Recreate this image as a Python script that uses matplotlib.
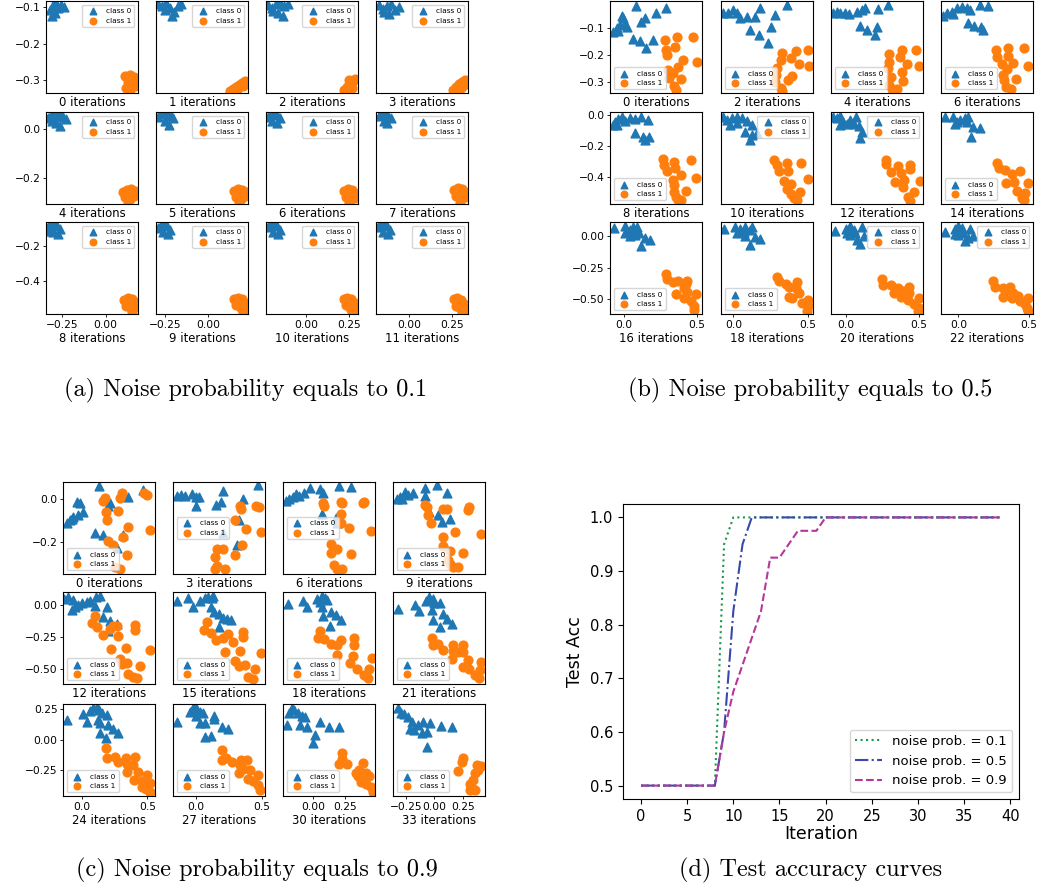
import matplotlib
matplotlib.use("Agg")
import matplotlib.pyplot as plt

# ---------------- data: (a) noise prob 0.1 ----------------
a_iters = [0, 1, 2, 3, 4, 5, 6, 7, 8, 9, 10, 11]
a_class0 = [
    [(-0.321, -0.108), (-0.304, -0.094), (-0.286, -0.088), (-0.275, -0.102), (-0.258, -0.094), (-0.240, -0.099), (-0.292, -0.116), (-0.309, -0.124), (-0.300, -0.113)],
    [(-0.290, -0.091), (-0.267, -0.097), (-0.244, -0.088), (-0.221, -0.102), (-0.198, -0.113), (-0.175, -0.097), (-0.158, -0.091), (-0.209, -0.124), (-0.250, -0.108)],
    [(-0.219, -0.094), (-0.196, -0.102), (-0.173, -0.091), (-0.150, -0.088), (-0.127, -0.097), (-0.104, -0.091), (-0.162, -0.116), (-0.133, -0.124), (-0.191, -0.110)],
    [(-0.176, -0.094), (-0.153, -0.105), (-0.129, -0.097), (-0.106, -0.091), (-0.083, -0.108), (-0.060, -0.099), (-0.118, -0.119), (-0.147, -0.113)],
    [(-0.332, 0.047), (-0.315, 0.060), (-0.298, 0.068), (-0.281, 0.055), (-0.263, 0.064), (-0.246, 0.051), (-0.229, 0.043), (-0.286, 0.027), (-0.263, 0.014), (-0.309, 0.035)],
    [(-0.290, 0.051), (-0.273, 0.064), (-0.256, 0.068), (-0.238, 0.055), (-0.221, 0.064), (-0.204, 0.047), (-0.250, 0.035), (-0.227, 0.018)],
    [(-0.219, 0.051), (-0.202, 0.064), (-0.185, 0.068), (-0.167, 0.060), (-0.150, 0.047), (-0.196, 0.035), (-0.167, 0.027)],
    [(-0.176, 0.055), (-0.158, 0.068), (-0.141, 0.064), (-0.124, 0.055), (-0.106, 0.047), (-0.147, 0.035), (-0.129, 0.027)],
    [(-0.332, -0.085), (-0.315, -0.068), (-0.298, -0.063), (-0.281, -0.080), (-0.263, -0.097), (-0.304, -0.113), (-0.275, -0.125), (-0.321, -0.108)],
    [(-0.290, -0.091), (-0.273, -0.074), (-0.256, -0.063), (-0.238, -0.080), (-0.221, -0.102), (-0.262, -0.113), (-0.233, -0.125)],
    [(-0.219, -0.085), (-0.202, -0.068), (-0.185, -0.063), (-0.167, -0.080), (-0.150, -0.102), (-0.191, -0.113), (-0.162, -0.125)],
    [(-0.181, -0.085), (-0.164, -0.068), (-0.147, -0.063), (-0.129, -0.080), (-0.112, -0.102), (-0.153, -0.113), (-0.124, -0.125)],
]
a_class1 = [
    [(0.111, -0.288), (0.140, -0.286), (0.163, -0.291), (0.128, -0.305), (0.157, -0.308), (0.117, -0.321), (0.140, -0.327), (0.169, -0.316)],
    [(0.126, -0.330), (0.143, -0.324), (0.160, -0.319), (0.178, -0.313), (0.195, -0.308), (0.212, -0.302), (0.166, -0.327), (0.201, -0.316)],
    [(0.220, -0.327), (0.237, -0.319), (0.255, -0.310), (0.272, -0.302), (0.283, -0.297), (0.231, -0.330), (0.266, -0.321), (0.249, -0.299)],
    [(0.252, -0.327), (0.269, -0.319), (0.287, -0.310), (0.304, -0.305), (0.321, -0.299), (0.264, -0.332), (0.298, -0.321), (0.316, -0.313)],
    [(0.100, -0.259), (0.123, -0.250), (0.146, -0.246), (0.169, -0.254), (0.111, -0.279), (0.140, -0.288), (0.163, -0.275), (0.128, -0.304)],
    [(0.149, -0.254), (0.172, -0.246), (0.195, -0.250), (0.218, -0.259), (0.160, -0.279), (0.189, -0.288), (0.212, -0.275), (0.178, -0.300)],
    [(0.220, -0.254), (0.243, -0.246), (0.266, -0.250), (0.283, -0.263), (0.231, -0.279), (0.260, -0.288), (0.283, -0.283), (0.249, -0.304)],
    [(0.258, -0.250), (0.281, -0.242), (0.304, -0.246), (0.321, -0.259), (0.269, -0.275), (0.298, -0.283), (0.321, -0.279), (0.292, -0.304)],
    [(0.105, -0.515), (0.128, -0.503), (0.151, -0.509), (0.169, -0.526), (0.117, -0.549), (0.146, -0.560), (0.169, -0.554), (0.151, -0.582)],
    [(0.149, -0.509), (0.172, -0.498), (0.195, -0.509), (0.212, -0.532), (0.160, -0.543), (0.189, -0.560), (0.212, -0.565), (0.201, -0.588)],
    [(0.220, -0.509), (0.237, -0.498), (0.260, -0.509), (0.283, -0.532), (0.231, -0.543), (0.255, -0.560), (0.278, -0.571), (0.266, -0.588)],
    [(0.258, -0.509), (0.275, -0.498), (0.298, -0.515), (0.316, -0.537), (0.269, -0.549), (0.292, -0.560), (0.316, -0.571), (0.304, -0.588)],
]
a_locs = ['upper right'] * 12
a_xlim = [(-0.344, 0.186), (-0.302, 0.229), (-0.231, 0.30), (-0.193, 0.341)]
a_ylim = [(-0.336, -0.083), (-0.309, 0.072), (-0.594, -0.057)]
a_xticks = [[-0.25, 0.0], [-0.25, 0.0], [0.0, 0.25], [0.0, 0.25]]
a_yticks = [[-0.3, -0.2, -0.1], [-0.2, 0.0], [-0.4, -0.2]]

# ---------------- data: (b) noise prob 0.5 ----------------
b_iters = [0, 2, 4, 6, 8, 10, 12, 14, 16, 18, 20, 22]
b_class0 = [
    [(0.085, -0.020), (0.289, -0.028), (0.221, -0.047), (0.141, -0.065), (0.119, -0.078), (-0.017, -0.057), (-0.007, -0.065), (-0.029, -0.090), (0.005, -0.086), (-0.051, -0.102), (-0.075, -0.115), (-0.041, -0.111), (0.062, -0.143), (0.107, -0.148), (0.202, -0.145), (0.153, -0.176), (0.017, -0.096)],
    [(-0.068, -0.047), (-0.034, -0.044), (0.000, -0.034), (0.023, -0.047), (0.045, -0.065), (0.091, -0.061), (0.181, -0.028), (0.147, -0.059), (0.363, -0.016), (0.277, -0.053), (0.254, -0.098), (0.113, -0.108), (0.170, -0.127), (0.231, -0.158)],
    [(-0.089, -0.047), (-0.065, -0.041), (-0.042, -0.047), (-0.007, -0.044), (0.016, -0.049), (0.075, -0.041), (0.110, -0.034), (0.133, -0.028), (0.219, -0.032), (0.291, -0.016), (0.093, -0.094), (0.145, -0.108), (0.210, -0.096), (0.198, -0.127)],
    [(-0.107, -0.057), (-0.083, -0.047), (-0.047, -0.041), (-0.012, -0.028), (0.024, -0.022), (0.059, -0.028), (0.083, -0.034), (0.154, -0.016), (0.212, -0.020), (0.066, -0.084), (0.113, -0.094), (0.159, -0.098), (0.173, -0.108), (-0.036, -0.049)],
    [(-0.075, -0.065), (-0.063, -0.044), (-0.041, -0.028), (-0.017, -0.015), (0.005, -0.037), (0.039, -0.022), (0.119, -0.012), (0.164, -0.033), (0.073, -0.028), (0.073, -0.119), (0.130, -0.141), (0.170, -0.141), (0.141, -0.163), (-0.051, -0.065)],
    [(-0.068, -0.012), (-0.045, -0.033), (-0.011, -0.022), (0.023, -0.015), (0.057, -0.022), (0.091, -0.037), (0.125, -0.065), (0.079, -0.109), (0.125, -0.130), (0.113, -0.163), (0.159, -0.119), (0.023, -0.054), (-0.023, -0.065)],
    [(-0.089, -0.012), (-0.065, -0.022), (-0.042, -0.007), (-0.019, -0.044), (0.005, -0.059), (0.028, -0.033), (0.051, -0.059), (0.070, -0.012), (0.086, -0.072), (0.110, -0.109), (0.098, -0.148), (-0.042, -0.065)],
    [(-0.095, -0.012), (-0.036, -0.012), (-0.012, -0.044), (0.012, -0.033), (0.047, -0.022), (0.071, -0.012), (0.059, -0.044), (0.102, -0.076), (0.154, -0.087), (0.088, -0.141), (-0.024, -0.059)],
    [(-0.068, 0.066), (0.005, 0.084), (0.005, 0.027), (0.039, 0.053), (0.062, 0.074), (0.089, 0.078), (0.102, 0.027), (0.073, 0.013), (0.114, -0.078), (0.141, -0.012), (0.175, -0.026), (0.039, 0.006)],
    [(-0.062, 0.058), (0.011, 0.078), (0.023, 0.027), (0.045, 0.058), (0.068, 0.039), (0.079, 0.078), (0.113, 0.053), (0.125, 0.074), (0.113, -0.065), (0.147, -0.005), (0.181, -0.020), (0.079, 0.006)],
    [(-0.077, 0.047), (0.000, 0.058), (0.028, 0.084), (0.051, 0.053), (0.063, 0.027), (0.028, 0.013), (0.110, 0.074), (0.121, 0.000), (0.075, -0.031), (0.098, -0.057), (0.005, 0.027)],
    [(-0.095, 0.039), (-0.024, 0.058), (0.000, 0.084), (0.024, 0.066), (0.035, 0.027), (0.000, 0.013), (0.083, 0.058), (0.106, 0.000), (0.047, -0.039), (0.071, -0.012), (-0.024, 0.021)],
]
b_class1 = [
    [(0.284, -0.145), (0.361, -0.133), (0.474, -0.135), (0.352, -0.172), (0.289, -0.182), (0.293, -0.201), (0.402, -0.219), (0.500, -0.227), (0.368, -0.244), (0.300, -0.257), (0.334, -0.267), (0.306, -0.287), (0.391, -0.290), (0.345, -0.316), (0.357, -0.331)],
    [(0.499, -0.182), (0.419, -0.185), (0.329, -0.195), (0.317, -0.219), (0.385, -0.213), (0.442, -0.235), (0.510, -0.242), (0.294, -0.250), (0.287, -0.275), (0.396, -0.279), (0.369, -0.294), (0.317, -0.324), (0.283, -0.300), (0.329, -0.333)],
    [(0.382, -0.182), (0.482, -0.182), (0.296, -0.197), (0.373, -0.209), (0.296, -0.226), (0.419, -0.234), (0.505, -0.242), (0.285, -0.250), (0.382, -0.263), (0.308, -0.281), (0.389, -0.296), (0.296, -0.312), (0.319, -0.328), (0.350, -0.328)],
    [(0.267, -0.182), (0.354, -0.176), (0.461, -0.176), (0.272, -0.207), (0.354, -0.205), (0.386, -0.232), (0.496, -0.241), (0.307, -0.234), (0.347, -0.253), (0.314, -0.275), (0.409, -0.291), (0.326, -0.294), (0.338, -0.321), (0.373, -0.328)],
    [(0.270, -0.288), (0.345, -0.304), (0.459, -0.293), (0.277, -0.325), (0.293, -0.362), (0.352, -0.347), (0.391, -0.390), (0.497, -0.408), (0.334, -0.423), (0.345, -0.455), (0.425, -0.492), (0.357, -0.531), (0.368, -0.548), (0.391, -0.548), (0.345, -0.499)],
    [(0.272, -0.293), (0.295, -0.325), (0.358, -0.314), (0.453, -0.314), (0.306, -0.362), (0.370, -0.362), (0.340, -0.427), (0.499, -0.418), (0.385, -0.449), (0.363, -0.483), (0.449, -0.499), (0.408, -0.541), (0.431, -0.552), (0.385, -0.509)],
    [(0.273, -0.293), (0.273, -0.319), (0.354, -0.332), (0.443, -0.325), (0.308, -0.369), (0.378, -0.375), (0.443, -0.353), (0.336, -0.434), (0.401, -0.423), (0.506, -0.429), (0.389, -0.470), (0.471, -0.499), (0.424, -0.531), (0.443, -0.559)],
    [(0.272, -0.310), (0.284, -0.347), (0.331, -0.358), (0.379, -0.384), (0.437, -0.362), (0.338, -0.440), (0.395, -0.434), (0.496, -0.440), (0.414, -0.492), (0.473, -0.505), (0.449, -0.535), (0.461, -0.552)],
    [(0.289, -0.299), (0.293, -0.338), (0.334, -0.364), (0.368, -0.359), (0.357, -0.463), (0.425, -0.377), (0.436, -0.359), (0.413, -0.416), (0.436, -0.448), (0.413, -0.494), (0.459, -0.515), (0.493, -0.463), (0.481, -0.559), (0.481, -0.586)],
    [(0.294, -0.325), (0.306, -0.359), (0.351, -0.377), (0.374, -0.403), (0.431, -0.364), (0.374, -0.481), (0.420, -0.416), (0.442, -0.455), (0.397, -0.494), (0.465, -0.533), (0.499, -0.508), (0.499, -0.559), (0.494, -0.598)],
    [(0.250, -0.338), (0.257, -0.385), (0.308, -0.390), (0.354, -0.416), (0.389, -0.437), (0.436, -0.403), (0.378, -0.481), (0.436, -0.455), (0.424, -0.508), (0.471, -0.541), (0.499, -0.489), (0.505, -0.572), (0.494, -0.598), (0.331, -0.455)],
    [(0.248, -0.359), (0.260, -0.403), (0.319, -0.411), (0.354, -0.429), (0.366, -0.403), (0.390, -0.455), (0.378, -0.494), (0.425, -0.473), (0.437, -0.520), (0.473, -0.541), (0.496, -0.494), (0.485, -0.572), (0.496, -0.598), (0.319, -0.481)],
]
b_locs = ['lower left', 'lower left', 'lower left', 'lower left',
          'lower left', 'upper right', 'upper right', 'lower left',
          'lower left', 'lower left', 'upper right', 'upper right']
b_xlim = [(-0.097, 0.536), (-0.084, 0.536), (-0.105, 0.53), (-0.123, 0.528)]
b_ylim = [(-0.342, -0.001), (-0.577, 0.019), (-0.62, 0.115)]
b_xticks = [[0.0, 0.5]] * 4
b_yticks = [[-0.3, -0.2, -0.1], [-0.4, -0.2, 0.0], [-0.5, -0.25, 0.0]]

# ---------------- data: (c) noise prob 0.9 ----------------
c_iters = [0, 3, 6, 9, 12, 15, 18, 21, 24, 27, 30, 33]
c_class0 = [
    [(0.131, 0.063), (0.465, 0.044), (0.350, 0.013), (0.214, -0.018), (0.200, -0.031), (-0.043, -0.011), (-0.017, -0.016), (0.008, -0.058), (-0.030, -0.074), (-0.069, -0.085), (-0.094, -0.097), (-0.120, -0.110), (-0.081, -0.094), (0.098, -0.157), (0.162, -0.168), (0.311, -0.168), (0.265, -0.231)],
    [(-0.147, 0.016), (-0.116, 0.021), (-0.084, 0.016), (-0.033, 0.025), (0.000, 0.013), (0.025, 0.013), (0.000, -0.031), (0.203, 0.041), (0.152, -0.027), (0.188, -0.011), (0.360, 0.000), (0.474, 0.068), (0.330, -0.097), (0.310, -0.215), (0.203, -0.157)],
    [(-0.211, -0.006), (-0.185, 0.000), (-0.158, 0.010), (-0.132, 0.025), (-0.106, 0.016), (-0.074, 0.029), (-0.021, 0.052), (0.058, 0.048), (0.079, 0.032), (0.202, 0.063), (0.301, 0.060), (0.071, -0.069), (0.176, -0.089), (0.190, -0.110)],
    [(-0.328, 0.000), (-0.299, 0.013), (-0.256, 0.036), (-0.227, 0.021), (-0.183, 0.029), (-0.082, 0.052), (-0.082, 0.016), (0.020, 0.068), (0.107, 0.032), (-0.044, -0.058), (0.034, -0.074), (0.063, -0.105), (0.136, -0.094), (-0.284, 0.000)],
    [(-0.140, 0.044), (-0.107, 0.059), (-0.073, 0.038), (-0.081, -0.038), (-0.056, -0.013), (-0.030, 0.000), (-0.004, 0.013), (0.034, 0.025), (0.060, 0.033), (0.106, 0.059), (0.137, 0.069), (0.098, -0.008), (0.188, -0.018), (0.157, -0.095), (0.214, -0.128), (0.270, -0.146), (0.200, -0.205)],
    [(-0.147, 0.033), (-0.059, 0.052), (-0.025, -0.018), (0.030, 0.033), (0.069, 0.052), (0.094, 0.064), (0.120, 0.052), (0.132, 0.069), (0.112, -0.013), (0.137, -0.052), (0.177, -0.069), (0.208, -0.102), (0.234, -0.110), (0.264, -0.121), (0.177, -0.172)],
    [(-0.193, 0.008), (-0.079, 0.033), (-0.047, -0.018), (0.032, 0.044), (0.071, 0.069), (0.097, 0.052), (0.111, 0.038), (0.071, -0.013), (0.079, -0.085), (0.142, -0.052), (0.176, -0.077), (0.216, -0.115), (0.131, -0.162), (0.058, 0.025)],
    [(-0.319, -0.033), (-0.169, 0.000), (-0.131, -0.044), (-0.073, 0.033), (-0.044, 0.064), (-0.015, 0.044), (-0.003, 0.013), (-0.023, -0.038), (0.049, 0.018), (0.072, -0.069), (0.107, -0.110), (0.150, -0.146), (-0.015, -0.121), (0.049, -0.172)],
    [(-0.115, 0.162), (0.008, 0.211), (0.034, 0.148), (0.060, 0.239), (0.085, 0.258), (0.111, 0.272), (0.131, 0.244), (0.150, 0.222), (0.124, 0.162), (0.137, 0.134), (0.193, 0.203), (0.200, 0.120), (0.137, 0.052), (0.183, 0.010), (0.234, 0.085), (0.277, 0.057)],
    [(-0.147, 0.148), (-0.046, 0.230), (-0.020, 0.258), (-0.008, 0.277), (0.010, 0.244), (0.030, 0.230), (0.056, 0.217), (0.000, 0.195), (0.069, 0.134), (0.030, 0.134), (0.137, 0.195), (0.137, 0.167), (0.196, 0.101), (0.246, 0.085), (0.069, 0.024), (0.112, 0.030)],
    [(-0.206, 0.120), (-0.185, 0.217), (-0.166, 0.258), (-0.148, 0.244), (-0.114, 0.222), (-0.087, 0.195), (-0.061, 0.184), (-0.101, 0.120), (-0.047, 0.101), (0.018, 0.038), (0.000, -0.026), (0.052, 0.148), (0.123, 0.106), (0.202, 0.106)],
    [(-0.314, 0.258), (-0.293, 0.222), (-0.264, 0.211), (-0.227, 0.189), (-0.197, 0.148), (-0.212, 0.085), (-0.177, 0.079), (-0.140, 0.120), (-0.102, 0.148), (-0.110, 0.057), (-0.062, 0.065), (-0.038, 0.134), (-0.062, -0.064), (0.055, 0.112), (0.150, 0.101)],
]
c_class1 = [
    [(0.175, 0.005), (0.157, -0.006), (0.304, 0.029), (0.290, 0.005), (0.475, 0.029), (0.495, 0.021), (0.183, -0.058), (0.188, -0.097), (0.277, -0.053), (0.354, -0.132), (0.521, -0.144), (0.200, -0.195), (0.239, -0.215), (0.311, -0.179), (0.347, -0.262), (0.252, -0.318), (0.290, -0.330)],
    [(0.335, -0.031), (0.340, -0.047), (0.457, -0.031), (0.482, -0.034), (0.297, -0.097), (0.381, -0.141), (0.493, -0.152), (0.158, -0.235), (0.203, -0.235), (0.348, -0.215), (0.145, -0.273), (0.297, -0.262), (0.158, -0.314), (0.145, -0.330), (0.221, -0.330)],
    [(0.079, -0.018), (0.084, -0.031), (0.216, -0.011), (0.229, -0.018), (0.400, -0.011), (0.388, -0.018), (0.221, -0.069), (0.221, -0.110), (0.282, -0.134), (0.453, -0.148), (0.142, -0.210), (0.190, -0.234), (0.142, -0.251), (0.295, -0.258), (0.163, -0.310), (0.184, -0.330), (0.229, -0.330)],
    [(-0.082, -0.027), (-0.067, -0.038), (-0.053, -0.074), (0.077, -0.047), (0.107, -0.047), (0.303, -0.035), (0.295, -0.050), (-0.030, -0.113), (0.179, -0.152), (0.403, -0.165), (0.072, -0.176), (0.072, -0.220), (0.136, -0.242), (0.251, -0.254), (0.136, -0.305), (0.159, -0.320), (0.208, -0.320), (0.121, -0.286)],
    [(0.098, -0.090), (0.073, -0.141), (0.116, -0.172), (0.157, -0.238), (0.214, -0.187), (0.239, -0.167), (0.270, -0.167), (0.277, -0.244), (0.406, -0.154), (0.406, -0.192), (0.521, -0.352), (0.219, -0.346), (0.337, -0.333), (0.290, -0.423), (0.347, -0.448), (0.304, -0.462), (0.444, -0.475), (0.354, -0.538), (0.393, -0.564), (0.419, -0.572)],
    [(0.081, -0.136), (0.061, -0.192), (0.112, -0.218), (0.152, -0.275), (0.208, -0.256), (0.246, -0.223), (0.279, -0.290), (0.360, -0.213), (0.360, -0.248), (0.221, -0.367), (0.335, -0.359), (0.297, -0.436), (0.330, -0.475), (0.373, -0.469), (0.495, -0.377), (0.449, -0.495), (0.398, -0.564), (0.432, -0.577)],
    [(0.052, -0.200), (0.036, -0.256), (0.084, -0.264), (0.137, -0.308), (0.190, -0.315), (0.221, -0.275), (0.321, -0.256), (0.321, -0.315), (0.190, -0.392), (0.316, -0.398), (0.459, -0.410), (0.290, -0.454), (0.343, -0.495), (0.440, -0.500), (0.400, -0.546), (0.427, -0.572)],
    [(-0.023, -0.256), (-0.015, -0.315), (0.034, -0.308), (0.077, -0.352), (0.159, -0.315), (0.164, -0.359), (0.208, -0.367), (0.251, -0.315), (0.251, -0.367), (0.150, -0.418), (0.295, -0.428), (0.403, -0.444), (0.251, -0.479), (0.303, -0.500), (0.397, -0.505), (0.353, -0.546), (0.390, -0.572)],
    [(0.183, -0.072), (0.188, -0.155), (0.252, -0.142), (0.277, -0.183), (0.337, -0.155), (0.406, -0.142), (0.342, -0.202), (0.388, -0.210), (0.431, -0.265), (0.342, -0.265), (0.398, -0.334), (0.457, -0.340), (0.500, -0.293), (0.521, -0.357), (0.490, -0.411), (0.521, -0.431), (0.457, -0.390)],
    [(0.196, -0.086), (0.196, -0.169), (0.228, -0.155), (0.272, -0.183), (0.340, -0.169), (0.386, -0.169), (0.335, -0.210), (0.356, -0.246), (0.330, -0.279), (0.411, -0.251), (0.398, -0.328), (0.474, -0.293), (0.436, -0.340), (0.474, -0.375), (0.487, -0.417)],
    [(0.229, -0.108), (0.203, -0.202), (0.269, -0.202), (0.229, -0.163), (0.388, -0.191), (0.361, -0.251), (0.353, -0.301), (0.388, -0.312), (0.414, -0.274), (0.440, -0.301), (0.374, -0.348), (0.414, -0.362), (0.453, -0.390), (0.467, -0.431), (0.335, -0.279)],
    [(0.251, -0.155), (0.237, -0.183), (0.208, -0.257), (0.368, -0.210), (0.403, -0.218), (0.353, -0.279), (0.338, -0.334), (0.310, -0.362), (0.324, -0.403), (0.353, -0.417), (0.382, -0.251), (0.310, -0.417)],
]
c_locs = ['lower left', 'center left', 'center left', 'lower left'] + ['lower left'] * 8
c_xlim = [(-0.148, 0.559), (-0.175, 0.525), (-0.235, 0.485), (-0.36, 0.44)]
c_ylim = [(-0.352, 0.082), (-0.615, 0.1), (-0.465, 0.294)]
c_xticks = [[0.0, 0.5], [0.0, 0.5], [0.0, 0.25], [-0.25, 0.0, 0.25]]
c_yticks = [[-0.2, 0.0], [-0.5, -0.25, 0.0], [-0.25, 0.0, 0.25]]

# ---------------- data: (d) test accuracy ----------------
iteration = list(range(40))
acc_01 = [0.5, 0.5, 0.5, 0.5, 0.5, 0.5, 0.5, 0.5, 0.5, 0.95,
          1.0, 1.0, 1.0, 1.0, 1.0, 1.0, 1.0, 1.0, 1.0, 1.0,
          1.0, 1.0, 1.0, 1.0, 1.0, 1.0, 1.0, 1.0, 1.0, 1.0,
          1.0, 1.0, 1.0, 1.0, 1.0, 1.0, 1.0, 1.0, 1.0, 1.0]
acc_05 = [0.5, 0.5, 0.5, 0.5, 0.5, 0.5, 0.5, 0.5, 0.5, 0.6,
          0.825, 0.95, 1.0, 1.0, 1.0, 1.0, 1.0, 1.0, 1.0, 1.0,
          1.0, 1.0, 1.0, 1.0, 1.0, 1.0, 1.0, 1.0, 1.0, 1.0,
          1.0, 1.0, 1.0, 1.0, 1.0, 1.0, 1.0, 1.0, 1.0, 1.0]
acc_09 = [0.5, 0.5, 0.5, 0.5, 0.5, 0.5, 0.5, 0.5, 0.5, 0.6,
          0.675, 0.725, 0.775, 0.825, 0.925, 0.925, 0.95, 0.975, 0.975, 0.975,
          1.0, 1.0, 1.0, 1.0, 1.0, 1.0, 1.0, 1.0, 1.0, 1.0,
          1.0, 1.0, 1.0, 1.0, 1.0, 1.0, 1.0, 1.0, 1.0, 1.0]

W, H = 1049, 890
fig = plt.figure(figsize=(W / 100, H / 100), dpi=100)


def px_axes(x0, y0, w, h):
    # box given in pixels from the top-left corner
    return fig.add_axes([x0 / W, 1 - (y0 + h) / H, w / W, h / H])


def draw_grid(lefts, tops, iters, cls0, cls1, locs, xlims, ylims, xticks, yticks):
    for k in range(12):
        r, c = divmod(k, 4)
        ax = px_axes(lefts[c], tops[r], 92, 92)
        x0, y0 = zip(*cls0[k])
        x1, y1 = zip(*cls1[k])
        ax.scatter(x0, y0, marker='^', s=40, color='C0', label='class 0')
        ax.scatter(x1, y1, marker='o', s=40, color='C1', label='class 1')
        ax.set_xlim(xlims[c])
        ax.set_ylim(ylims[r])
        ax.set_xticks(xticks[c])
        ax.set_yticks(yticks[r])
        ax.tick_params(labelsize=7.7, length=2.5, width=0.6, pad=1.5)
        if r < 2:
            ax.tick_params(bottom=False, labelbottom=False)
        if c > 0:
            ax.tick_params(left=False, labelleft=False)
        ax.set_xlabel('%d iterations' % iters[k], fontsize=8.4, labelpad=2)
        ax.legend(loc=locs[k], fontsize=5.3, markerscale=0.75)


draw_grid([46, 156, 266, 376], [1, 112, 222], a_iters, a_class0, a_class1,
          a_locs, a_xlim, a_ylim, a_xticks, a_yticks)
draw_grid([610, 721, 831, 941], [1, 112, 222], b_iters, b_class0, b_class1,
          b_locs, b_xlim, b_ylim, b_xticks, b_yticks)
draw_grid([63, 173, 283, 393], [482, 592, 704], c_iters, c_class0, c_class1,
          c_locs, c_xlim, c_ylim, c_xticks, c_yticks)

# test accuracy curves
axd = px_axes(623, 504, 396, 295)
axd.plot(iteration, acc_01, ':', color='#1a9850', lw=1.5, label='noise prob. = 0.1')
axd.plot(iteration, acc_05, '-.', color='#3949ab', lw=1.5, label='noise prob. = 0.5')
axd.plot(iteration, acc_09, '--', color='#b5379a', lw=1.5, label='noise prob. = 0.9')
axd.set_xticks(range(0, 41, 5))
axd.set_yticks([0.5, 0.6, 0.7, 0.8, 0.9, 1.0])
axd.tick_params(labelsize=10.5)
axd.set_xlabel('Iteration', fontsize=12.5, labelpad=1)
axd.set_ylabel('Test Acc', fontsize=12.5)
axd.legend(loc='lower right', fontsize=9.5)

# captions (Computer Modern, as in the paper)
cap = dict(ha='center', va='center', fontsize=17.5, family='cmr10')
fig.text(246 / W, 1 - 390 / H, '(a) Noise probability equals to 0.1', **cap)
fig.text(810 / W, 1 - 390 / H, '(b) Noise probability equals to 0.5', **cap)
fig.text(257 / W, 1 - 870 / H, '(c) Noise probability equals to 0.9', **cap)
fig.text(811 / W, 1 - 870 / H, '(d) Test accuracy curves', **cap)

fig.savefig('out.png', dpi=100)
